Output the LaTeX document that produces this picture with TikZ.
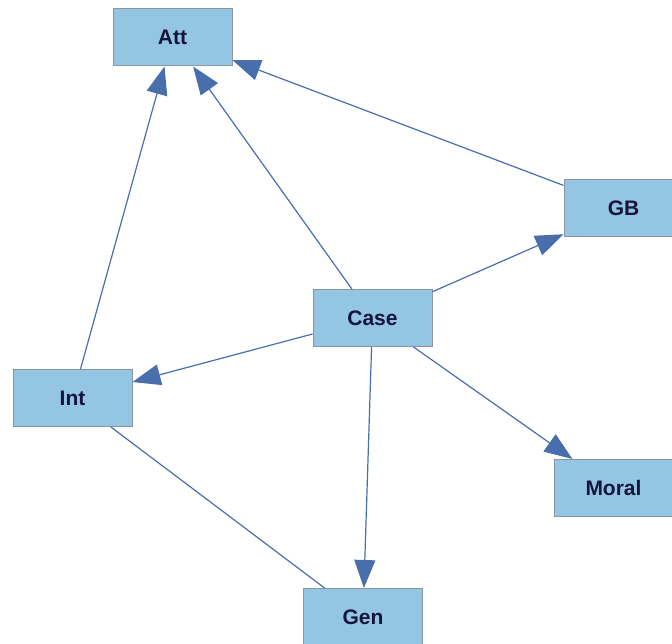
\documentclass[tikz,border=0pt]{standalone}
\usepackage{fontspec}
\setmainfont{Liberation Sans}
\usetikzlibrary{arrows.meta}
\definecolor{boxfill}{RGB}{148,198,228}
\definecolor{boxline}{RGB}{140,150,160}
\definecolor{edgecol}{RGB}{72,110,172}
\definecolor{txtcol}{RGB}{20,20,60}
\tikzset{
  vbox/.style={draw=boxline, line width=1pt, fill=boxfill, minimum width=119pt, minimum height=57pt,
    inner sep=0pt, font=\fontsize{21}{24}\selectfont\bfseries, text=txtcol},
  link/.style={draw=edgecol, line width=1.2pt},
  arr/.style={link, -{Triangle[length=28pt,width=21pt]}}
}
\begin{document}
\begin{tikzpicture}[x=1pt,y=-1pt]
\useasboundingbox (0,0) rectangle (672,644);
\clip (0,0) rectangle (672,644);
\node[vbox] (att) at (172.5,37.5) {Att};
\node[vbox] (gb) at (623.5,208) {GB};
\node[vbox] (case) at (372.5,318) {Case};
\node[vbox] (int) at (72.5,398) {Int};
\node[vbox] (moral) at (613.5,488) {Moral};
\node[vbox] (gen) at (363,617) {Gen};
\draw[arr] (int) -- (att);
\draw[arr] (case) -- (att);
\draw[arr] (gb) -- (att);
\draw[arr] (case) -- (gb);
\draw[arr] (case) -- (int);
\draw[arr] (case) -- (moral);
\draw[arr] (case) -- (gen);
\draw[link] (int) -- (gen);
\end{tikzpicture}
\end{document}
